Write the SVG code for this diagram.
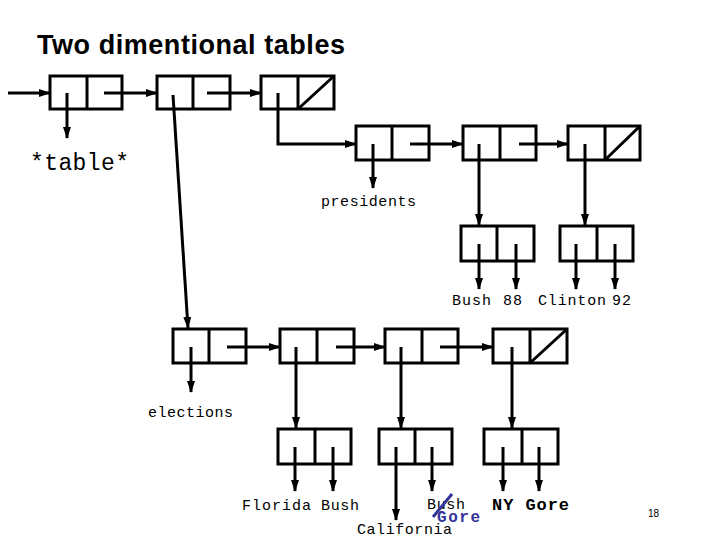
<svg xmlns="http://www.w3.org/2000/svg" width="720" height="540" viewBox="0 0 720 540">
<style>
.box{fill:none;stroke:#000;stroke-width:3}
.ln{fill:none;stroke:#000;stroke-width:3;marker-end:url(#ah)}
.t{font-family:"Liberation Mono","Courier New",monospace;font-size:15px;fill:#000}
.title{font-family:"Liberation Sans",Arial,sans-serif;font-size:27px;font-weight:bold;fill:#000}
</style>
<defs>
<marker id="ah" markerUnits="userSpaceOnUse" markerWidth="12" markerHeight="10" refX="11" refY="5" orient="auto">
<path d="M0,1 L12,5 L0,9 Z" fill="#000"/>
</marker>
</defs>
<rect width="720" height="540" fill="#fff"/>
<text class="title" x="37" y="54" textLength="308">Two dimentional tables</text>

<g id="n-top1"><rect class="box" x="50" y="76" width="72" height="33"/><line class="box" x1="87" y1="76" x2="87" y2="109"/></g>
<g id="n-top2"><rect class="box" x="157" y="76" width="73" height="33"/><line class="box" x1="193" y1="76" x2="193" y2="109"/></g>
<g id="n-top3"><rect class="box" x="261" y="76" width="73" height="33"/><line class="box" x1="298" y1="76" x2="298" y2="109"/><line class="box" x1="298" y1="109" x2="334" y2="76"/></g>

<g id="n-p1"><rect class="box" x="356" y="126" width="73" height="34"/><line class="box" x1="392" y1="126" x2="392" y2="160"/></g>
<g id="n-p2"><rect class="box" x="463" y="126" width="73" height="34"/><line class="box" x1="500" y1="126" x2="500" y2="160"/></g>
<g id="n-p3"><rect class="box" x="568" y="126" width="72" height="34"/><line class="box" x1="605" y1="126" x2="605" y2="160"/><line class="box" x1="605" y1="160" x2="640" y2="126"/></g>
<g id="n-bush88"><rect class="box" x="461" y="226" width="73" height="35"/><line class="box" x1="497" y1="226" x2="497" y2="261"/></g>
<g id="n-clinton92"><rect class="box" x="560" y="226" width="73" height="35"/><line class="box" x1="597" y1="226" x2="597" y2="261"/></g>

<g id="n-e1"><rect class="box" x="173" y="329" width="73" height="34"/><line class="box" x1="209" y1="329" x2="209" y2="363"/></g>
<g id="n-e2"><rect class="box" x="280" y="329" width="74" height="34"/><line class="box" x1="317" y1="329" x2="317" y2="363"/></g>
<g id="n-e3"><rect class="box" x="385" y="329" width="73" height="34"/><line class="box" x1="422" y1="329" x2="422" y2="363"/></g>
<g id="n-e4"><rect class="box" x="493" y="329" width="74" height="34"/><line class="box" x1="530" y1="329" x2="530" y2="363"/><line class="box" x1="530" y1="363" x2="567" y2="329"/></g>
<g id="n-florida"><rect class="box" x="278" y="429" width="73" height="35"/><line class="box" x1="315" y1="429" x2="315" y2="464"/></g>
<g id="n-california"><rect class="box" x="379" y="429" width="73" height="35"/><line class="box" x1="415" y1="429" x2="415" y2="464"/></g>
<g id="n-ny"><rect class="box" x="484" y="429" width="74" height="35"/><line class="box" x1="522" y1="429" x2="522" y2="464"/></g>

<g id="connectors">
<line class="ln" x1="8" y1="93" x2="50" y2="93"/>
<line class="ln" x1="104" y1="93" x2="157" y2="93"/>
<line class="ln" x1="207" y1="93" x2="261" y2="93"/>
<line class="ln" x1="67" y1="93" x2="67" y2="138"/>
<line class="ln" x1="173" y1="95" x2="188" y2="328"/>
<polyline class="ln" points="278,93 278,144 356,144"/>
<line class="ln" x1="373" y1="144" x2="373" y2="188"/>
<line class="ln" x1="410" y1="144" x2="463" y2="144"/>
<line class="ln" x1="519" y1="144" x2="568" y2="144"/>
<line class="ln" x1="479" y1="144" x2="479" y2="225"/>
<line class="ln" x1="585" y1="144" x2="585" y2="225"/>
<line class="ln" x1="479" y1="244" x2="479" y2="289"/>
<line class="ln" x1="516" y1="244" x2="516" y2="289"/>
<line class="ln" x1="576" y1="244" x2="576" y2="289"/>
<line class="ln" x1="615" y1="244" x2="615" y2="289"/>
<line class="ln" x1="191" y1="347" x2="191" y2="392"/>
<line class="ln" x1="227" y1="347" x2="280" y2="347"/>
<line class="ln" x1="336" y1="347" x2="385" y2="347"/>
<line class="ln" x1="440" y1="347" x2="493" y2="347"/>
<line class="ln" x1="296" y1="347" x2="296" y2="428"/>
<line class="ln" x1="401" y1="347" x2="401" y2="428"/>
<line class="ln" x1="512" y1="347" x2="512" y2="428"/>
<line class="ln" x1="295" y1="447" x2="295" y2="491"/>
<line class="ln" x1="333" y1="447" x2="333" y2="491"/>
<line class="ln" x1="396" y1="447" x2="396" y2="520"/>
<line class="ln" x1="432" y1="447" x2="432" y2="491"/>
<line class="ln" x1="503" y1="447" x2="503" y2="491"/>
<line class="ln" x1="539" y1="447" x2="539" y2="491"/>
</g>

<text class="t" x="30" y="170" style="font-size:23px" textLength="99">*table*</text>
<text class="t" x="321" y="206" textLength="95">presidents</text>
<text class="t" x="452" y="305" textLength="39">Bush</text>
<text class="t" x="503" y="305" textLength="19">88</text>
<text class="t" x="538" y="305" textLength="68">Clinton</text>
<text class="t" x="612" y="305" textLength="19">92</text>
<text class="t" x="148" y="417" textLength="85">elections</text>
<text class="t" x="242" y="510" textLength="69">Florida</text>
<text class="t" x="321" y="510" textLength="38">Bush</text>
<text class="t" x="427" y="509" textLength="38">Bush</text>
<text class="t" x="437" y="522" textLength="43" style="fill:#333399;font-size:16px;font-weight:bold">Gore</text>
<line x1="433" y1="517" x2="452" y2="494" stroke="#333399" stroke-width="3"/>
<text class="t" x="357" y="534" textLength="95">California</text>
<text class="t" x="492" y="510" style="font-size:17px;font-weight:bold" textLength="77">NY Gore</text>
<text x="648" y="517" style="font-family:'Liberation Sans',Arial,sans-serif;font-size:10px">18</text>
</svg>
